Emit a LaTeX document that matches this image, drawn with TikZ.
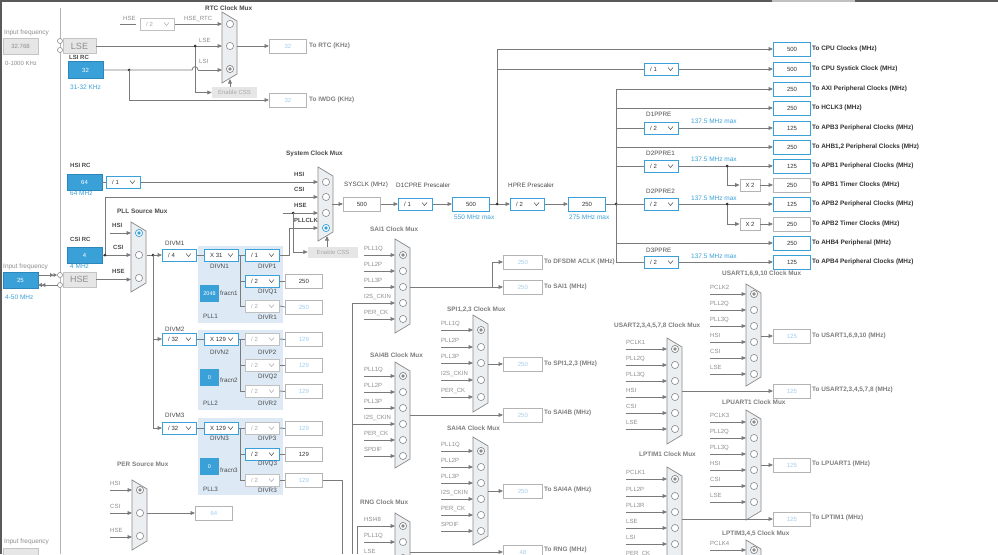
\documentclass[tikz,border=0pt]{standalone}
\usepackage{fontspec}
\setmainfont{Liberation Sans}
\usetikzlibrary{arrows.meta}
\definecolor{lc}{HTML}{7A7A7A}
\definecolor{bl}{HTML}{3AA0D8}
\definecolor{bld}{HTML}{2B86BA}
\definecolor{lbt}{HTML}{A3CDEB}
\definecolor{pllbg}{HTML}{DDEAF6}
\definecolor{dk}{HTML}{333333}
\definecolor{hd}{HTML}{4A4A4A}
\definecolor{gt}{HTML}{8E8E8E}
\definecolor{gh}{HTML}{7E7E7E}
\definecolor{boxg}{HTML}{B4B4B4}
\definecolor{muxf}{HTML}{ECEFF2}
\definecolor{muxd}{HTML}{8A8A8A}
\definecolor{lgf}{HTML}{E6E6E6}
\definecolor{lgd}{HTML}{C4C4C4}
\definecolor{frm}{HTML}{5A5A5A}
\definecolor{ddg}{HTML}{C0C0C0}
\definecolor{ddgt}{HTML}{A8A8A8}
\newcommand\fA{\fontsize{6}{7}\selectfont}
\newcommand\fB{\fontsize{6.4}{7.5}\selectfont\bfseries}
\newcommand\fC{\fontsize{6.5}{7.5}\selectfont}
\newcommand\fD{\fontsize{6.3}{7.5}\selectfont}
\tikzset{
 ln/.style={draw=lc, line width=0.8pt},
 arr/.style={draw=lc, line width=0.8pt, -{Triangle[length=4.5pt,width=3.8pt]}},
 jdot/.style={fill=dk},
 vbox/.style={draw=bl, line width=1pt, fill=white, minimum width=37pt, minimum height=14pt, inner sep=0pt, font=\fA, text=dk},
 gbox/.style={draw=boxg, line width=.8pt, fill=white, minimum width=37pt, minimum height=14pt, inner sep=0pt, font=\fA, text=lbt},
 kbox/.style={gbox, text=dk},
 mbox/.style={gbox, minimum width=39pt},
 srcbox/.style={fill=bl, draw=bld, line width=.5pt, minimum width=35pt, minimum height=16pt, inner sep=0pt, font=\fA, text=white},
 fracbox/.style={fill=bl, minimum width=19pt, minimum height=17pt, inner sep=0pt, font=\fontsize{5.5}{6}\selectfont, text=white},
 lgbox/.style={fill=lgf, draw=lgd, line width=.6pt, inner sep=0pt, text=gt},
 cssbox/.style={fill=lgf, draw=none, minimum width=45pt, minimum height=11pt, inner sep=0pt, font=\fA, text=ddgt},
 x2box/.style={draw=boxg, fill=white, line width=.8pt, minimum width=20pt, minimum height=12pt, inner sep=0pt, font=\fA, text=dk},
 hdr/.style={font=\fB, text=hd, anchor=west, inner sep=0pt},
 ghdr/.style={font=\fB, text=gh, anchor=west, inner sep=0pt},
 inlab/.style={font=\fA, text=gt, anchor=base west, inner sep=0pt},
 dklab/.style={font=\fA\bfseries, text=hd, anchor=base west, inner sep=0pt},
 sublab/.style={font=\fD, text=hd, anchor=west, inner sep=0pt},
 tolab/.style={font=\fB, text=dk, anchor=west, inner sep=0pt},
 gtolab/.style={font=\fB, text=gh, anchor=west, inner sep=0pt},
 bltxt/.style={font=\fC, text=bl, anchor=west, inner sep=0pt},
 muxs/.style={draw=muxd, fill=muxf, line width=.7pt},
 muxc/.style={draw=muxd, fill=white, line width=.6pt},
 ddboxb/.style={draw=bl, line width=1pt, fill=white, minimum width=34pt, minimum height=12pt, inner sep=0pt},
 ddboxg/.style={draw=ddg, line width=.8pt, fill=white, minimum width=34pt, minimum height=12pt, inner sep=0pt},
 ddtxtb/.style={font=\fA, text=dk, anchor=west, inner sep=0pt},
 ddtxtg/.style={font=\fA, text=ddgt, anchor=west, inner sep=0pt},
 ddchevb/.style={draw=hd, line width=.5pt},
 ddchevg/.style={draw=ddgt, line width=.5pt},
}
\newcommand\dd[5]{%
 \node[ddbox#5, anchor=west] (#1) at (#2,#3) {};
 \node[ddtxt#5] at ({#2+6},#3) {#4};
 \draw[ddchev#5] ({#2+24},{#3-1.5}) -- ({#2+26.5},{#3+1.5}) -- ({#2+29},{#3-1.5});}
\newcommand\muxdraw[6]{%
 \draw[muxs] (#1,#2) -- ({#1+15},{#2+9}) -- ({#1+15},{#3-9}) -- (#1,#3) -- cycle;
 \foreach \cy in {#4}{\draw[muxc] ({#1+8},\cy) circle[radius=3.6pt];}
 \draw[draw=#6, fill=white, line width=.7pt] ({#1+8},#5) circle[radius=3.6pt];
 \fill[#6] ({#1+8},#5) circle[radius=1.9pt];}
\newcommand\muxins[3]{\foreach \lab/\yy in {#3}{\node[inlab] at (#1,\yy-5) {\lab}; \draw[arr] (#1,\yy) -- (#2,\yy);}}
\newcommand\jd[2]{\fill[jdot] (#1,#2) circle[radius=1.5pt];}
\begin{document}
\begin{tikzpicture}[x=1pt,y=-1pt]
\useasboundingbox (0,0) rectangle (998,554);
\clip (0,0) rectangle (998,554);
\fill[white] (0,0) rectangle (998,554);
% PLL backgrounds
\fill[pllbg] (198,246) rectangle (283,323);
\fill[pllbg] (198,330) rectangle (283,410);
\fill[pllbg] (198,418) rectangle (283,495);
% frame
\draw[frm, line width=2.4pt] (1.2,554) -- (1.2,1.2) -- (998,1.2);
\draw[ddg, line width=2.4pt] (772,1.2) -- (855,1.2);
\draw[boxg, line width=.8pt] (60,8) -- (60,554);
% ---------- left panel
\node[inlab, anchor=west, font=\fC] at (4,33) {Input frequency};
\node[lgbox, minimum width=35pt, minimum height=16pt, font=\fA] (lsein) at (20.5,46) {32.768};
\node[inlab, anchor=west] at (5,63) {0-1000 KHz};
\draw[muxc] (60,41) circle[radius=2.5pt];
\draw[muxc] (60,50) circle[radius=2.5pt];
\node[lgbox, minimum width=33pt, minimum height=15pt, font=\fontsize{9}{10}\selectfont] (lse) at (79.5,46) {LSE};
\node[dklab, anchor=west] at (69,57) {LSI RC};
\node[srcbox, minimum height=17pt] (lsi) at (85.5,70) {32};
\node[bltxt] at (70,87) {31-32 KHz};
% RTC
\node[hdr] at (205,8) {RTC Clock Mux};
\node[inlab] at (123,20) {HSE};
\draw[ln] (120,24) -- (136,24);
\dd{rtcdiv}{140}{24}{/ 2}{g}
\node[inlab] at (184,20) {HSE\_RTC};
\muxdraw{222}{12}{83}{24,46}{69}{muxd}
\draw[arr] (rtcdiv.east) -- (222,24);
\draw[arr] (lse.east) -- (222,46);
\node[inlab] at (199,42) {LSE};
\draw[ln] (lsi.east) -- (192,70) .. controls (192.5,65.5) and (197.5,65.5) .. (198,70);
\draw[arr] (198,70) -- (222,70);
\node[inlab] at (199,63) {LSI};
\node[cssbox] (css1) at (234.5,92.5) {Enable CSS};
\draw[arr] (195,46) -- (195,92.5) -- (css1.west);
\draw[arr] (230,87) -- (230,79);
\jd{195}{46}
\jd{129}{70}
\node[gbox, anchor=west] (rtco) at (269,46) {32};
\draw[arr] (237,46) -- (rtco.west);
\node[gtolab] at (309,46) {To RTC (KHz)};
\node[gbox, anchor=west] (iwdg) at (269,100) {32};
\draw[arr] (129,70) -- (129,100) -- (iwdg.west);
\node[gtolab] at (309,100) {To IWDG (KHz)};
% HSI
\node[dklab, anchor=west] at (70,165) {HSI RC};
\node[srcbox] (hsi) at (84.5,182) {64};
\node[bltxt] at (70,193) {64 MHz};
\dd{hsidiv}{106}{182}{/ 1}{b}
\draw[ln] (hsi.east) -- (hsidiv.west);
% CSI / HSE inputs
\node[dklab, anchor=west] at (70,239) {CSI RC};
\node[srcbox] (csi) at (84.5,255) {4};
\node[bltxt] at (70,266) {4 MHz};
\node[inlab, anchor=west, font=\fC] at (3,267) {Input frequency};
\node[srcbox] (hsein) at (20.5,280) {25};
\node[bltxt] at (5,297) {4-50 MHz};
\draw[muxc] (60,275) circle[radius=2.5pt];
\draw[muxc] (60,285) circle[radius=2.5pt];
\draw[ln, -{Triangle[length=3.5pt,width=3.8pt] Triangle[length=3.5pt,width=3.8pt]}] (hsein.east |- 0,275) -- (57,275);
\draw[ln, -{Triangle[length=3.5pt,width=3.8pt] Triangle[length=3.5pt,width=3.8pt]}] (57.5,285) -- (hsein.east |- 0,285);
\node[lgbox, minimum width=33pt, minimum height=15pt, font=\fontsize{9}{10}\selectfont] (hse) at (79.5,279.5) {HSE};
% System clock mux
\node[hdr] at (286,154) {System Clock Mux};
\muxdraw{318}{167}{241}{182,197,213}{228}{bl}
\draw[arr] (hsidiv.east) -- (318,182);
\node[dklab] at (294,176) {HSI};
\draw[arr] (105,255) -- (105,197) -- (318,197);
\node[dklab] at (294,191) {CSI};
\draw[arr] (283,213) -- (318,213);
\node[dklab] at (294,207) {HSE};
\node[dklab] at (294,222) {PLLCLK};
\jd{293}{213}
\node[cssbox, minimum width=50pt] (css2) at (333,252) {Enable CSS};
\draw[arr] (293,213) -- (293,252) -- (css2.west);
\draw[arr] (327,246.5) -- (327,236);
\node[kbox, anchor=west] (sysclk) at (343,204) {500};
\draw[arr] (332,204) -- (sysclk.west);
\node[sublab] at (344,185) {SYSCLK (MHz)};
\node[sublab] at (396,185) {D1CPRE Prescaler};
\dd{d1cpre}{398}{204}{/ 1}{b}
\draw[arr] (sysclk.east) -- (d1cpre.west);
\node[vbox, anchor=west] (cpu) at (452,204) {500};
\draw[arr] (d1cpre.east) -- (cpu.west);
\node[bltxt] at (454,217) {550 MHz max};
\node[sublab] at (508,185) {HPRE Prescaler};
\dd{hpre}{510}{204}{/ 2}{b}
\draw[arr] (cpu.east) -- (hpre.west);
\node[vbox, anchor=west] (ahb) at (568,204) {250};
\draw[arr] (hpre.east) -- (ahb.west);
\node[bltxt] at (569,217) {275 MHz max};
\draw[ln] (497,204) -- (497,49);
\jd{497}{204}
\draw[ln] (ahb.east) -- (616,204);
\draw[ln] (616,89) -- (616,262);
\jd{616}{204}
% right outputs
\node[vbox, anchor=west] (o1) at (773,49) {500};
\node[tolab] at (812,49) {To CPU Clocks (MHz)};
\node[vbox, anchor=west] (o2) at (773,69) {500};
\node[tolab] at (812,69) {To CPU Systick Clock (MHz)};
\node[vbox, anchor=west] (o3) at (773,89) {250};
\node[tolab] at (812,89) {To AXI Peripheral Clocks (MHz)};
\node[vbox, anchor=west] (o4) at (773,108) {250};
\node[tolab] at (812,108) {To HCLK3 (MHz)};
\node[vbox, anchor=west] (o5) at (773,128) {125};
\node[tolab] at (812,128) {To APB3 Peripheral Clocks (MHz)};
\node[vbox, anchor=west] (o6) at (773,147) {250};
\node[tolab] at (812,147) {To AHB1,2 Peripheral Clocks (MHz)};
\node[vbox, anchor=west] (o7) at (773,166) {125};
\node[tolab] at (812,166) {To APB1 Peripheral Clocks (MHz)};
\node[kbox, anchor=west] (o8) at (773,185) {250};
\node[tolab] at (812,185) {To APB1 Timer Clocks (MHz)};
\node[vbox, anchor=west] (o9) at (773,204) {125};
\node[tolab] at (812,204) {To APB2 Peripheral Clocks (MHz)};
\node[kbox, anchor=west] (o10) at (773,224) {250};
\node[tolab] at (812,224) {To APB2 Timer Clocks (MHz)};
\node[vbox, anchor=west] (o11) at (773,243) {250};
\node[tolab] at (812,243) {To AHB4 Peripheral (MHz)};
\node[vbox, anchor=west] (o12) at (773,262) {125};
\node[tolab] at (812,262) {To APB4 Peripheral Clocks (MHz)};
\draw[arr] (497,49) -- (o1.west);
\dd{sysdiv}{644}{69}{/ 1}{b}
\draw[ln] (497,69) -- (sysdiv.west);
\draw[arr] (sysdiv.east) -- (o2.west);
\draw[arr] (616,89) -- (o3.west);
\draw[arr] (616,108) -- (o4.west);
\dd{d1ppre}{644}{128}{/ 2}{b}
\draw[ln] (616,128) -- (d1ppre.west);
\draw[arr] (d1ppre.east) -- (o5.west);
\draw[arr] (616,147) -- (o6.west);
\dd{d2ppre1}{644}{166}{/ 2}{b}
\draw[ln] (616,166) -- (d2ppre1.west);
\draw[arr] (d2ppre1.east) -- (o7.west);
\node[x2box] (x2a) at (750,185) {X 2};
\draw[arr] (727,166) -- (727,185) -- (x2a.west);
\draw[arr] (x2a.east) -- (o8.west);
\jd{727}{166}
\dd{d2ppre2}{644}{204}{/ 2}{b}
\draw[ln] (616,204) -- (d2ppre2.west);
\draw[arr] (d2ppre2.east) -- (o9.west);
\node[x2box] (x2b) at (750,224) {X 2};
\draw[arr] (727,204) -- (727,224) -- (x2b.west);
\draw[arr] (x2b.east) -- (o10.west);
\jd{727}{204}
\draw[arr] (616,243) -- (o11.west);
\dd{d3ppre}{644}{262}{/ 2}{b}
\draw[ln] (616,262) -- (d3ppre.west);
\draw[arr] (d3ppre.east) -- (o12.west);
\node[sublab] at (646,114) {D1PPRE};
\node[bltxt] at (691,121) {137.5 MHz max};
\node[sublab] at (646,153) {D2PPRE1};
\node[bltxt] at (691,159) {137.5 MHz max};
\node[sublab] at (646,191) {D2PPRE2};
\node[bltxt] at (691,198) {137.5 MHz max};
\node[sublab] at (646,250) {D3PPRE};
\node[bltxt] at (691,256) {137.5 MHz max};
% PLL source mux
\node[hdr] at (117,211) {PLL Source Mux};
\muxdraw{131}{222}{292}{255,278}{233}{bl}
\draw[arr] (110,233) -- (131,233);
\node[dklab] at (112,227) {HSI};
\draw[arr] (csi.east) -- (131,255);
\jd{105}{255}
\node[dklab] at (113,249) {CSI};
\draw[arr] (hse.east) -- (131,279.5);
\node[dklab] at (112,273) {HSE};
% DIVM
\dd{divm1}{162}{255}{/ 4}{b}
\dd{divm2}{162}{339}{/ 32}{b}
\dd{divm3}{162}{428}{/ 32}{b}
\draw[arr] (147,255) -- (divm1.west);
\jd{153}{255}
\draw[ln] (153,255) -- (153,428);
\draw[arr] (153,339) -- (divm2.west);
\draw[arr] (153,428) -- (divm3.west);
\node[sublab] at (165,243) {DIVM1};
\node[sublab] at (165,329) {DIVM2};
\node[sublab] at (165,415) {DIVM3};
% PLL1
\dd{divn1}{204}{255}{X 31}{b}
\draw[ln] (divm1.east) -- (divn1.west);
\node[sublab] at (210,266) {DIVN1};
\node[fracbox] (fr1) at (209.5,293.5) {2048};
\node[sublab] at (220,293) {fracn1};
\node[sublab] at (203,316) {PLL1};
\dd{divp1}{245}{255}{/ 1}{b}
\dd{divq1}{245}{281}{/ 2}{b}
\dd{divr1}{245}{306}{/ 2}{g}
\draw[ln] (divn1.east) -- (divp1.west);
\draw[ln] (240,255) -- (240,306);
\draw[ln] (240,281) -- (divq1.west);
\draw[ln] (240,306) -- (divr1.west);
\node[sublab] at (258,266) {DIVP1};
\node[sublab] at (258,292) {DIVQ1};
\node[sublab] at (258,317) {DIVR1};
\node[kbox, anchor=west] (q1o) at (285,281) {250};
\node[gbox, anchor=west] (r1o) at (285,307) {250};
\draw[ln] (divq1.east) -- (q1o.west);
\draw[ln] (divr1.east) -- (r1o.west);
\draw[arr] (divp1.east) -- (289,255) -- (289,228) -- (318,228);
% PLL2
\dd{divn2}{204}{339}{X 129}{b}
\draw[ln] (divm2.east) -- (divn2.west);
\node[sublab] at (210,352) {DIVN2};
\node[fracbox] (fr2) at (209.5,377.5) {0};
\node[sublab] at (220,380) {fracn2};
\node[sublab] at (203,403) {PLL2};
\dd{divp2}{245}{339}{/ 2}{g}
\dd{divq2}{245}{365}{/ 2}{g}
\dd{divr2}{245}{391}{/ 2}{g}
\draw[ln] (divn2.east) -- (divp2.west);
\draw[ln] (240,339) -- (240,391);
\draw[ln] (240,365) -- (divq2.west);
\draw[ln] (240,391) -- (divr2.west);
\node[sublab] at (258,352) {DIVP2};
\node[sublab] at (258,377) {DIVQ2};
\node[sublab] at (258,403) {DIVR2};
\node[gbox, anchor=west] (p2o) at (285,339.5) {129};
\node[gbox, anchor=west] (q2o) at (285,365) {129};
\node[gbox, anchor=west] (r2o) at (285,391.5) {129};
\draw[ln] (divp2.east) -- (p2o.west);
\draw[ln] (divq2.east) -- (q2o.west);
\draw[ln] (divr2.east) -- (r2o.west);
% PLL3
\dd{divn3}{204}{428}{X 129}{b}
\draw[ln] (divm3.east) -- (divn3.west);
\node[sublab] at (210,438) {DIVN3};
\node[fracbox] (fr3) at (209.5,466.5) {0};
\node[sublab] at (220,470) {fracn3};
\node[sublab] at (203,489) {PLL3};
\dd{divp3}{245}{428}{/ 2}{g}
\dd{divq3}{245}{454}{/ 2}{b}
\dd{divr3}{245}{480}{/ 2}{g}
\draw[ln] (divn3.east) -- (divp3.west);
\draw[ln] (240,428) -- (240,480);
\draw[ln] (240,454) -- (divq3.west);
\draw[ln] (240,480) -- (divr3.west);
\node[sublab] at (258,438) {DIVP3};
\node[sublab] at (258,464) {DIVQ3};
\node[sublab] at (258,490) {DIVR3};
\node[gbox, anchor=west] (p3o) at (285,428.5) {129};
\node[kbox, anchor=west] (q3o) at (285,454) {129};
\node[gbox, anchor=west] (r3o) at (285,480) {129};
\draw[ln] (divp3.east) -- (p3o.west);
\draw[ln] (divq3.east) -- (q3o.west);
\draw[ln] (divr3.east) -- (r3o.west);
\draw[ln] (r3o.east) -- (342,480) -- (342,554);
% PER source mux
\node[ghdr] at (117,464) {PER Source Mux};
\muxdraw{132}{480}{550}{513,536}{490}{muxd}
\muxins{110}{132}{HSI/490, CSI/513, HSE/537}
\node[gbox, anchor=west] (per) at (195,513) {64};
\draw[arr] (147,513) -- (per.west);
\node[inlab, anchor=west, font=\fC] at (4,542) {Input frequency};
\node[lgbox, minimum width=35pt, minimum height=16pt, anchor=north west] at (3,548) {};
% SAI1
\node[ghdr] at (370,229) {SAI1 Clock Mux};
\muxdraw{395}{239}{333}{271,287,303,319}{255}{muxd}
\muxins{364}{395}{PLL1Q/255, PLL2P/271, PLL3P/287, I2S\_CKIN/303, PER\_CK/319}
\draw[ln] (352,303) -- (364,303);
\draw[ln] (352,303) -- (352,554);
\node[mbox, anchor=west] (dfsdm) at (503,262) {250};
\node[mbox, anchor=west] (sai1o) at (503,287) {250};
\draw[arr] (410,287) -- (sai1o.west);
\draw[arr] (492,287) -- (492,262) -- (dfsdm.west);
\node[gtolab] at (544,262) {To DFSDM ACLK (MHz)};
\node[gtolab] at (544,287) {To SAI1 (MHz)};
% SPI
\node[ghdr] at (447,310) {SPI1,2,3 Clock Mux};
\muxdraw{473}{315}{412}{347,363,380,397}{330}{muxd}
\muxins{441}{473}{PLL1Q/330, PLL2P/347, PLL3P/363, I2S\_CKIN/380, PER\_CK/397}
\node[mbox, anchor=west] (spio) at (503,364) {250};
\draw[arr] (488,364) -- (spio.west);
\node[gtolab] at (544,364) {To SPI1,2,3 (MHz)};
% SAI4B
\node[ghdr] at (370,355) {SAI4B Clock Mux};
\muxdraw{395}{362}{468}{392,408,424,440,456}{376}{muxd}
\muxins{364}{395}{PLL1Q/376, PLL2P/392, PLL3P/408, I2S\_CKIN/424, PER\_CK/440, SPDIF/456}
\draw[ln] (352,424) -- (364,424);
\node[mbox, anchor=west] (sai4bo) at (503,415) {250};
\draw[arr] (410,415) -- (sai4bo.west);
\node[gtolab] at (544,413) {To SAI4B (MHz)};
% SAI4A
\node[ghdr] at (447,428) {SAI4A Clock Mux};
\muxdraw{473}{437}{545}{467,483,499,515,531}{451}{muxd}
\muxins{441}{473}{PLL1Q/451, PLL2P/467, PLL3P/483, I2S\_CKIN/499, PER\_CK/515, SPDIF/531}
\node[mbox, anchor=west] (sai4ao) at (503,491) {250};
\draw[arr] (488,491) -- (sai4ao.west);
\node[gtolab] at (544,490) {To SAI4A (MHz)};
% RNG
\node[ghdr] at (360,502) {RNG Clock Mux};
\muxdraw{395}{513}{591}{542,558}{526}{muxd}
\node[inlab] at (364,521) {HSI48};
\draw[arr] (357,554) -- (357,526) -- (395,526);
\muxins{364}{395}{PLL1Q/542, LSE/558}
\node[mbox, anchor=west] (rngo) at (503,552) {48};
\draw[arr] (410,552) -- (rngo.west);
\node[gtolab] at (544,550) {To RNG (MHz)};
% USART1
\node[ghdr] at (722,274) {USART1,6,9,10 Clock Mux};
\muxdraw{746}{284}{386}{310,326,342,358,374}{294}{muxd}
\muxins{710}{746}{PCLK2/294, PLL2Q/310, PLL3Q/326, HSI/342, CSI/358, LSE/374}
\node[gbox, anchor=west] (u1o) at (773,336) {125};
\draw[arr] (761,336) -- (u1o.west);
\node[gtolab] at (812,336) {To USART1,6,9,10 (MHz)};
% USART2
\node[ghdr] at (614,326) {USART2,3,4,5,7,8 Clock Mux};
\muxdraw{667}{338}{444}{365,381,397,413,429}{349}{muxd}
\muxins{626}{667}{PCLK1/349, PLL2Q/365, PLL3Q/381, HSI/397, CSI/413, LSE/429}
\node[gbox, anchor=west] (u2o) at (773,391) {125};
\draw[arr] (682,391) -- (u2o.west);
\node[gtolab] at (812,390) {To USART2,3,4,5,7,8 (MHz)};
% LPUART1
\node[ghdr] at (722,402) {LPUART1 Clock Mux};
\muxdraw{746}{410}{520}{438,454,470,486,502}{422}{muxd}
\muxins{710}{746}{PCLK3/422, PLL2Q/438, PLL3Q/454, HSI/470, CSI/486, LSE/502}
\node[gbox, anchor=west] (lpuo) at (773,465) {125};
\draw[arr] (761,465) -- (lpuo.west);
\node[gtolab] at (812,464) {To LPUART1 (MHz)};
% LPTIM1
\node[ghdr] at (639,454) {LPTIM1 Clock Mux};
\muxdraw{667}{467}{573}{496,512,528,544,560}{479}{muxd}
\muxins{626}{667}{PCLK1/479, PLL2P/496, PLL3R/512, LSE/528, LSI/544, PER\_CK/560}
\node[gbox, anchor=west] (lpto) at (773,519) {125};
\draw[arr] (682,519) -- (lpto.west);
\node[gtolab] at (812,518) {To LPTIM1 (MHz)};
% LPTIM3,4,5
\node[ghdr] at (722,534) {LPTIM3,4,5 Clock Mux};
\muxdraw{746}{540}{650}{566}{550}{muxd}
\muxins{710}{746}{PCLK4/550}
\end{tikzpicture}
\end{document}
